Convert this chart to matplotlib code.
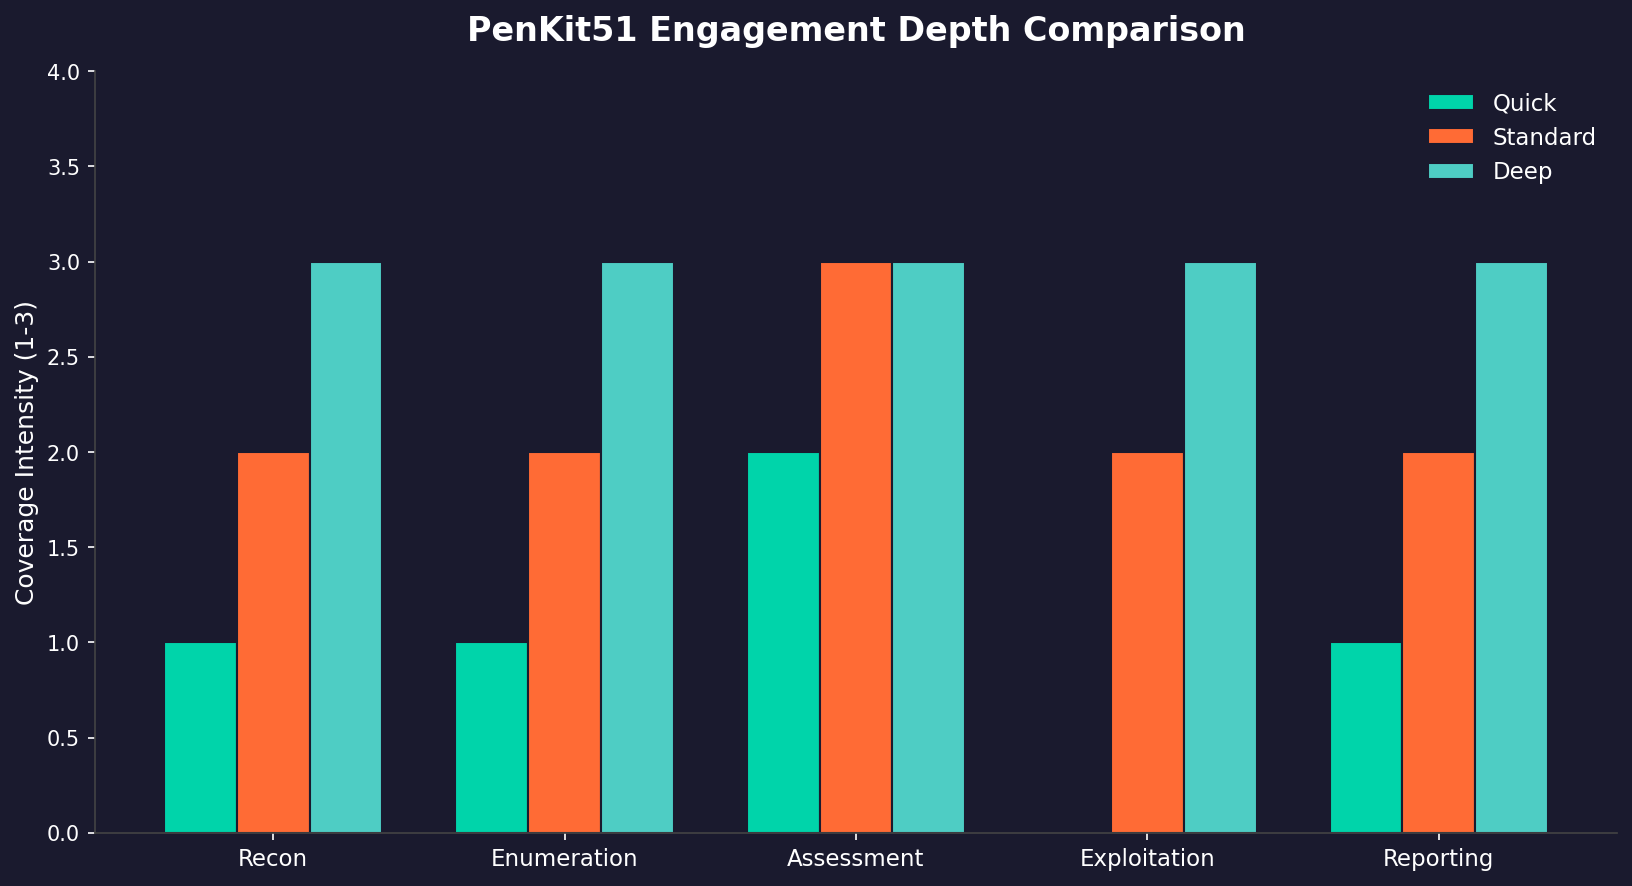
import numpy as np
import matplotlib
matplotlib.use('Agg')
import matplotlib.pyplot as plt

phases = ['Recon', 'Enumeration', 'Assessment', 'Exploitation', 'Reporting']
quick = [1, 1, 2, 0, 1]
standard = [2, 2, 3, 2, 2]
deep = [3, 3, 3, 3, 3]

bg = '#1a1a2e'
colors = ['#00d4aa', '#ff6b35', '#4ecdc4']

fig, ax = plt.subplots(figsize=(10.88, 5.91), dpi=150)
fig.patch.set_facecolor(bg)
ax.set_facecolor(bg)

x = np.arange(len(phases))
w = 0.25
ax.bar(x - w, quick, w, label='Quick', color=colors[0], edgecolor=bg, linewidth=1)
ax.bar(x, standard, w, label='Standard', color=colors[1], edgecolor=bg, linewidth=1)
ax.bar(x + w, deep, w, label='Deep', color=colors[2], edgecolor=bg, linewidth=1)

ax.set_xticks(x)
ax.set_xticklabels(phases, fontsize=11, color='white')
ax.set_ylim(0, 4)
ax.set_yticks(np.arange(0, 4.01, 0.5))
ax.tick_params(axis='y', labelsize=10, colors='white')
ax.tick_params(axis='x', colors='white')
ax.set_ylabel('Coverage Intensity (1-3)', fontsize=12, color='white')
ax.set_title('PenKit51 Engagement Depth Comparison', fontsize=16, fontweight='bold',
             color='white', pad=15)

for s in ['top', 'right']:
    ax.spines[s].set_visible(False)
for s in ['left', 'bottom']:
    ax.spines[s].set_color('#444444')

leg = ax.legend(fontsize=11, frameon=False, labelcolor='white')

plt.subplots_adjust(left=0.058, right=0.991, top=0.919, bottom=0.060)
plt.savefig('out.png', facecolor=bg)
